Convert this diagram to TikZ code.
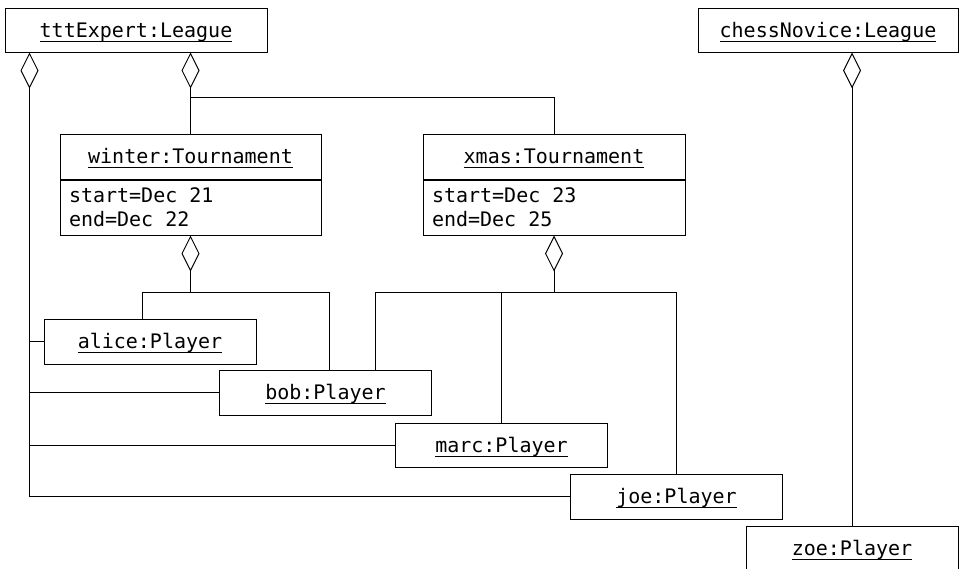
\documentclass[tikz,border=0pt]{standalone}
\usepackage{fontspec}
\setmonofont{DejaVu Sans Mono}
\usepackage{tikz}
\usetikzlibrary{arrows.meta,positioning,calc}

% underlined object name (rule crosses the descenders, as in UML tools)
\newcommand{\uobj}[1]{\setbox0\hbox{#1}\rlap{\vrule height -3.5pt depth 4.8pt width \wd0}\box0}

\begin{document}
\begin{tikzpicture}[x=1pt, y=-1pt, line width=1pt,
    objbox/.style={draw, inner sep=0pt, minimum height=45pt, text height=14pt, text depth=0pt,
        font=\ttfamily\fontsize{20}{24}\selectfont},
    attrbox/.style={draw, inner xsep=9pt, inner ysep=0pt, minimum height=55pt, align=left, anchor=north,
        font=\ttfamily\fontsize{20}{24}\selectfont, execute at begin node={\spaceskip=0.602em\relax}},
    agg/.style={{Diamond[open, length=36pt, width=18pt]}-}]
        \useasboundingbox (0,0) rectangle (959,568);

        % Leagues
        \node[objbox, minimum width=262pt, minimum height=44pt] (ttt) at (136,30) {\uobj{tttExpert:League}};
        \node[objbox, minimum width=260pt, minimum height=44pt] (chess) at (828,30) {\uobj{chessNovice:League}};

        % Tournament winter
        \node[objbox, minimum width=261pt] (winterT) at (190.5,156.5) {\uobj{winter:Tournament}};
        \node[attrbox, text width=243pt] (winterA) at (winterT.south) {start=Dec 21\\end=Dec 22};

        % Tournament xmas
        \node[objbox, minimum width=262pt] (xmasT) at (554,156.5) {\uobj{xmas:Tournament}};
        \node[attrbox, text width=244pt] (xmasA) at (xmasT.south) {start=Dec 23\\end=Dec 25};

        % Players
        \node[objbox, minimum width=212pt] (alice) at (150,341.5) {\uobj{alice:Player}};
        \node[objbox, minimum width=212pt] (bob) at (325.5,392.5) {\uobj{bob:Player}};
        \node[objbox, minimum width=212pt, minimum height=44pt] (marc) at (501.5,445) {\uobj{marc:Player}};
        \node[objbox, minimum width=212pt] (joe) at (676.5,496.5) {\uobj{joe:Player}};
        \node[objbox, minimum width=212pt] (zoe) at (852,548.5) {\uobj{zoe:Player}};

        % tttExpert -> players
        \coordinate (tttL) at ($(ttt.south west)+(25,0)$);
        \coordinate (tttLd) at ($(tttL)+(0,36)$);
        \draw[agg] (tttL) |- (joe.west);
        \draw (tttLd) |- (alice.west);
        \draw (tttLd) |- (bob.west);
        \draw (tttLd) |- (marc.west);

        % tttExpert -> tournaments
        \coordinate (tttM) at (ttt.south -| winterT.north);
        \coordinate (tBus) at ($(tttM)+(0,45)$);
        \draw[agg] (tttM) -- (winterT.north);
        \draw (tBus) -| (xmasT.north);

        % winter -> players
        \coordinate (wBus) at ($(winterA.south)+(0,57)$);
        \draw[agg] (winterA.south) -- (wBus);
        \draw (wBus) -| ($(alice.north west)+(99,0)$);
        \draw (wBus) -| ($(bob.north west)+(110,0)$);

        % xmas -> players
        \coordinate (xBus) at ($(xmasA.south)+(0,57)$);
        \draw[agg] (xmasA.south) -- (xBus);
        \draw (xBus) -| ($(bob.north east)+(-57,0)$);
        \draw (xBus) -| (marc.north);
        \draw (xBus) -| (joe.north);

        % chessNovice -> zoe
        \draw[agg] (chess.south -| zoe.north) -- (zoe.north);
    \end{tikzpicture}
\end{document}
